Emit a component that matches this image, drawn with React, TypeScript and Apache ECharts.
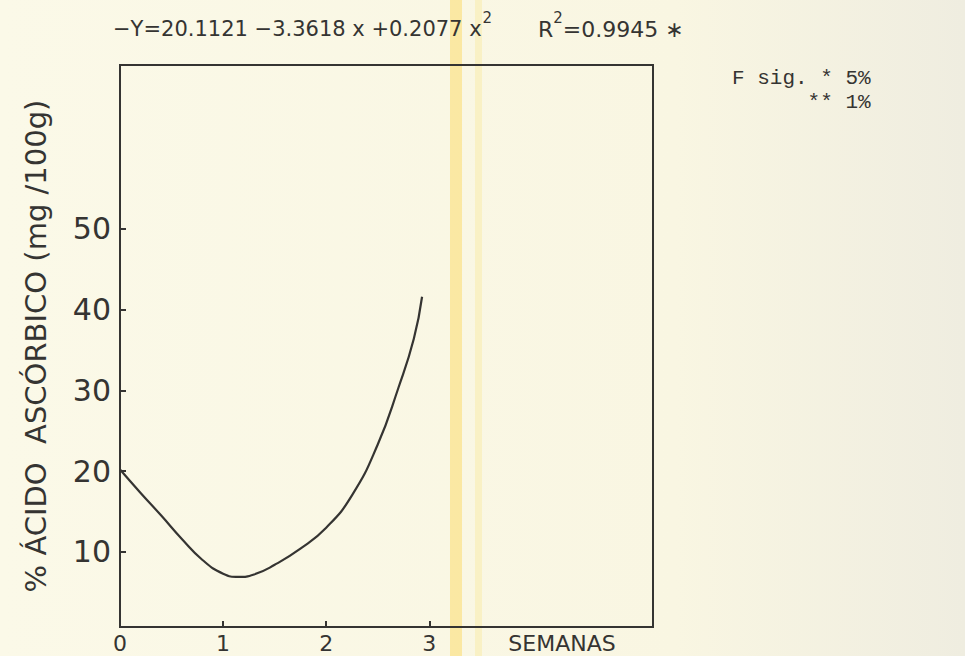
import React, { useEffect, useRef } from "react";
import * as echarts from "echarts";

// Fitted curve of ascorbic acid content against storage time (weeks)
const weeks = [0, 0.2, 0.4, 0.6, 0.8, 1.0, 1.15, 1.3, 1.5, 1.75, 2.0, 2.25, 2.5, 2.7, 2.85, 2.93];
const acid = [20.2, 17.3, 14.5, 11.6, 9.0, 7.3, 6.9, 7.2, 8.4, 10.4, 13.0, 17.0, 23.3, 30.3, 36.4, 41.6];

const xLabelValues = [0, 1, 2, 3];
const xTickValues = [1, 2, 3];
const yTickValues = [10, 20, 30, 40, 50];

const xUnitLabel = "SEMANAS";
const yAxisTitle = "% ÁCIDO  ASCÓRBICO (mg /100g)";
const equationText = "−Y=20.1121 −3.3618 x +0.2077 x";
const r2Text = "R";
const r2Value = "=0.9945 ∗";
const sigLines = ["F sig. * 5%", "      ** 1%"];

const INK = "#353432";
const LETTER_FONT = "'DejaVu Sans', sans-serif";
const TYPE_FONT = "'Liberation Mono', 'DejaVu Sans Mono', monospace";

export default function App() {
  const ref = useRef<HTMLDivElement>(null);

  useEffect(() => {
    if (!ref.current) return;
    const chart = echarts.init(ref.current, undefined, { renderer: "svg" });

    chart.setOption({
      animation: false,
      backgroundColor: "#fbf8e5",
      grid: {
        left: 120,
        right: 312,
        top: 65,
        bottom: 29,
        show: true,
        borderColor: INK,
        borderWidth: 2,
        backgroundColor: "transparent",
      },
      graphic: [
        {
          type: "rect",
          z: -10,
          silent: true,
          shape: { x: 0, y: 0, width: 965, height: 656 },
          style: {
            fill: new echarts.graphic.LinearGradient(0, 0, 1, 0, [
              { offset: 0, color: "#fbf9e8" },
              { offset: 0.7, color: "#f9f6e2" },
              { offset: 1, color: "#efede0" },
            ]),
          },
        },
        {
          type: "rect",
          z: -5,
          silent: true,
          shape: { x: 450, y: 0, width: 12, height: 656 },
          style: { fill: "rgba(252, 220, 110, 0.55)" },
        },
        {
          type: "rect",
          z: -5,
          silent: true,
          shape: { x: 475, y: 0, width: 7, height: 656 },
          style: { fill: "rgba(248, 232, 160, 0.45)" },
        },
        {
          type: "text",
          left: 113,
          top: 10,
          style: {
            text: `{t|${equationText}}{s|2}`,
            rich: {
              t: { fontFamily: LETTER_FONT, fontSize: 21, fill: INK, verticalAlign: "bottom", padding: [8, 0, 0, 0] },
              s: { fontFamily: LETTER_FONT, fontSize: 15, fill: INK, verticalAlign: "top", padding: [0, 0, 12, 1] },
            },
          },
        },
        {
          type: "text",
          left: 538,
          top: 10,
          style: {
            text: `{t|${r2Text}}{s|2}{t|${r2Value}}`,
            rich: {
              t: { fontFamily: LETTER_FONT, fontSize: 22, fill: INK, verticalAlign: "bottom", padding: [8, 0, 0, 0] },
              s: { fontFamily: LETTER_FONT, fontSize: 15, fill: INK, verticalAlign: "top", padding: [0, 0, 12, 0] },
            },
          },
        },
        {
          type: "text",
          left: 732,
          top: 66,
          style: {
            text: sigLines.join("\n"),
            fontFamily: TYPE_FONT,
            fontSize: 21,
            lineHeight: 24,
            fill: INK,
          },
        },
        {
          type: "text",
          x: 562,
          y: 643,
          style: {
            text: xUnitLabel,
            fontFamily: LETTER_FONT,
            fontSize: 22,
            fill: INK,
            align: "center",
            verticalAlign: "middle",
          },
        },
      ],
      xAxis: {
        type: "value",
        min: 0,
        max: 5.17,
        axisLine: { show: true, onZero: false, lineStyle: { color: INK, width: 2 } },
        axisTick: {
          show: true,
          inside: true,
          length: 6,
          customValues: xTickValues,
          lineStyle: { color: INK, width: 2 },
        },
        axisLabel: {
          customValues: xLabelValues,
          margin: 5,
          fontFamily: LETTER_FONT,
          fontSize: 22,
          color: INK,
        },
        splitLine: { show: false },
      },
      yAxis: {
        type: "value",
        min: 0.7,
        max: 70.3,
        name: yAxisTitle,
        nameLocation: "middle",
        nameRotate: 90,
        nameGap: 70,
        nameTextStyle: { fontFamily: LETTER_FONT, fontSize: 29, color: INK },
        axisLine: { show: true, lineStyle: { color: INK, width: 2 } },
        axisTick: {
          show: true,
          inside: true,
          length: 6,
          customValues: yTickValues,
          lineStyle: { color: INK, width: 2 },
        },
        axisLabel: {
          customValues: yTickValues,
          margin: 9,
          fontFamily: LETTER_FONT,
          fontSize: 30,
          color: INK,
        },
        splitLine: { show: false },
      },
      series: [
        {
          type: "line",
          data: weeks.map((w, i) => [w, acid[i]]),
          smooth: 0.5,
          showSymbol: false,
          lineStyle: { color: INK, width: 2.2 },
        },
      ],
    });

    return () => chart.dispose();
  }, []);

  return (
    <div
      ref={ref}
      style={{ position: "absolute", left: 0, top: 0, width: 965, height: 656 }}
    />
  );
}
